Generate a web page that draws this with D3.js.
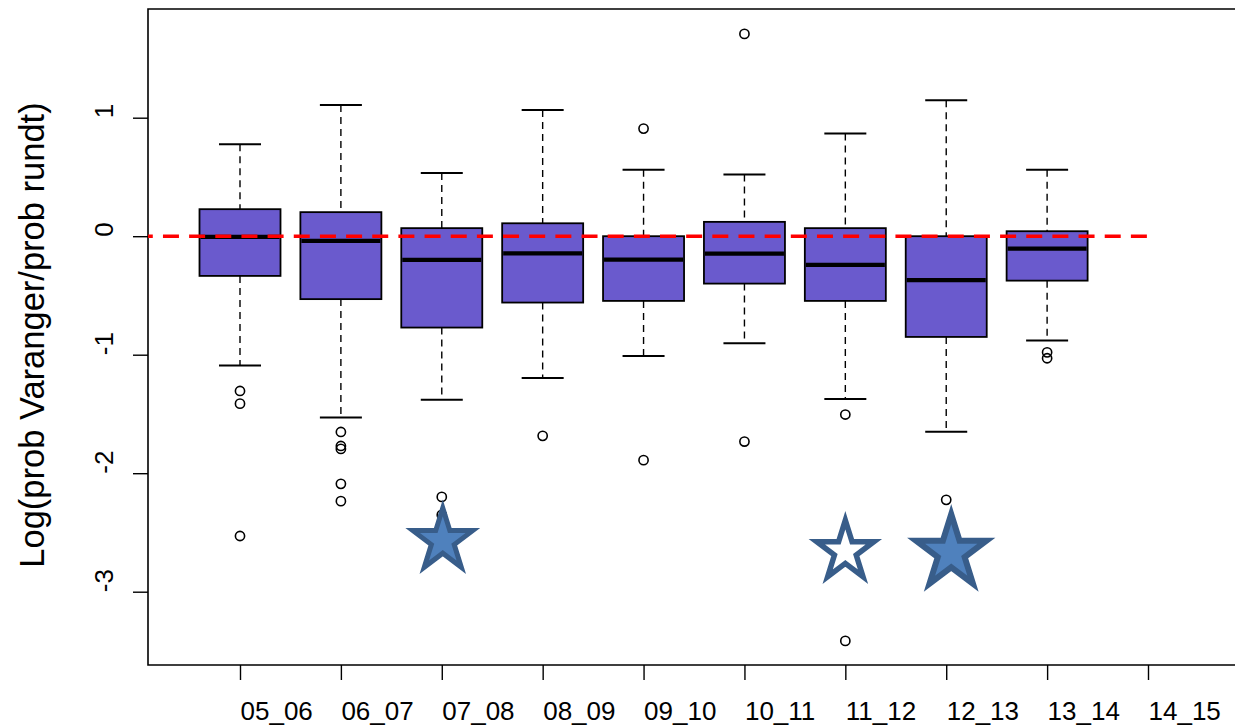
<!DOCTYPE html>
<html>
<head>
<meta charset="utf-8">
<script src="https://cdn.jsdelivr.net/npm/d3@7/dist/d3.min.js"></script>
<style>
  html, body { margin: 0; padding: 0; background: #fff; }
  svg { display: block; font-family: "Liberation Sans", Arial, sans-serif; }
</style>
</head>
<body>
<svg id="chart" width="1235" height="726"></svg>
<script>
// Season categories along the x axis (the last one has no data)
const categories = ["05_06","06_07","07_08","08_09","09_10","10_11","11_12","12_13","13_14","14_15"];
const boxCategories = ["05_06","06_07","07_08","08_09","09_10","10_11","11_12","12_13","13_14"];

// Box statistics per season
const whiskerLow  = [-1.092, -1.53, -1.38, -1.196, -1.01, -0.903, -1.373, -1.651, -0.88];
const quartile1   = [-0.335, -0.531, -0.771, -0.56, -0.546, -0.40, -0.546, -0.85, -0.375];
const medians     = [-0.005, -0.04, -0.20, -0.145, -0.197, -0.147, -0.242, -0.371, -0.105];
const quartile3   = [0.228, 0.203, 0.068, 0.109, 0.0, 0.121, 0.068, 0.0, 0.042];
const whiskerHigh = [0.776, 1.108, 0.534, 1.066, 0.56, 0.52, 0.866, 1.148, 0.56];
const outliers = [
  [-1.306, -1.413, -2.53],
  [-1.652, -1.77, -1.795, -2.09, -2.236],
  [-2.2, -2.352],
  [-1.685],
  [0.908, -1.89],
  [1.707, -1.733],
  [-1.505, -3.415],
  [-2.225],
  [-0.98, -1.03]
];

// Y axis ticks
const yTicks = [-3, -2, -1, 0, 1];

// Star markers: season and vertical position
const starCategories = ["07_08", "11_12", "12_13"];
const starValues = [-2.57, -2.66, -2.67];
const starFilled = [true, false, true];

// Star sizes, outline widths and small horizontal nudges (drawing style)
const starRadius = [31.5, 30, 37];
const starStroke = [5, 5.5, 6];
const starNudge = [1, 0, 5];

const svg = d3.select("#chart");

const frame = { left: 148, top: 9, bottom: 665, right: 1240 };

const x = d3.scalePoint().domain(categories).range([240, 1148]);
const y = d3.scaleLinear().domain([-3, 1]).range([591.7, 117.7]);

const boxWidth = 81;
const capWidth = 42;

// Plot frame (right side lies outside the canvas)
svg.append("path")
  .attr("d", `M${frame.right},${frame.top}H${frame.left}V${frame.bottom}H${frame.right}`)
  .attr("fill", "none").attr("stroke", "#000").attr("stroke-width", 1.6);

// Y axis
const yAxis = svg.append("g")
  .attr("transform", `translate(${frame.left},0)`)
  .call(d3.axisLeft(y).tickValues(yTicks).tickSize(15).tickFormat(d3.format("d")));
yAxis.select(".domain").remove();
yAxis.selectAll(".tick line").attr("stroke", "#000").attr("stroke-width", 1.4);
yAxis.selectAll(".tick text")
  .attr("transform", "rotate(-90)")
  .attr("x", 0).attr("y", -35).attr("dy", 0)
  .attr("text-anchor", "start")
  .attr("font-size", 26)
  .attr("font-family", "\"Liberation Sans\", Arial, sans-serif")
  .attr("fill", "#000")
  .text(d => d < 0 ? "-" + Math.abs(d) : String(d));

// X axis
const xAxis = svg.append("g")
  .attr("transform", `translate(0,${frame.bottom})`)
  .call(d3.axisBottom(x).tickSize(15));
xAxis.select(".domain").remove();
xAxis.selectAll(".tick line").attr("stroke", "#000").attr("stroke-width", 1.4);
xAxis.selectAll(".tick text")
  .attr("y", 55).attr("dy", 0)
  .attr("text-anchor", "start")
  .attr("font-size", 26)
  .attr("font-family", "\"Liberation Sans\", Arial, sans-serif")
  .attr("fill", "#000");

// Y axis title
svg.append("text")
  .attr("transform", `translate(44,335) rotate(-90)`)
  .attr("text-anchor", "middle")
  .attr("font-size", 34.5)
  .attr("fill", "#000")
  .text("Log(prob Varanger/prob rundt)");

// Boxes
const boxes = boxCategories.map((c, i) => ({
  c, lo: whiskerLow[i], q1: quartile1[i], med: medians[i], q3: quartile3[i], hi: whiskerHigh[i], out: outliers[i]
}));

const g = svg.append("g");
const bg = g.selectAll("g.box").data(boxes).join("g").attr("class", "box");

// whiskers (dashed)
bg.append("line")
  .attr("x1", d => x(d.c)).attr("x2", d => x(d.c))
  .attr("y1", d => y(d.hi)).attr("y2", d => y(d.q3))
  .attr("stroke", "#000").attr("stroke-width", 1.4).attr("stroke-dasharray", "7,5");
bg.append("line")
  .attr("x1", d => x(d.c)).attr("x2", d => x(d.c))
  .attr("y1", d => y(d.q1)).attr("y2", d => y(d.lo))
  .attr("stroke", "#000").attr("stroke-width", 1.4).attr("stroke-dasharray", "7,5");
// whisker caps
bg.append("line")
  .attr("x1", d => x(d.c) - capWidth / 2).attr("x2", d => x(d.c) + capWidth / 2)
  .attr("y1", d => y(d.hi)).attr("y2", d => y(d.hi))
  .attr("stroke", "#000").attr("stroke-width", 2);
bg.append("line")
  .attr("x1", d => x(d.c) - capWidth / 2).attr("x2", d => x(d.c) + capWidth / 2)
  .attr("y1", d => y(d.lo)).attr("y2", d => y(d.lo))
  .attr("stroke", "#000").attr("stroke-width", 2);
// box body
bg.append("rect")
  .attr("x", d => x(d.c) - boxWidth / 2).attr("width", boxWidth)
  .attr("y", d => y(d.q3)).attr("height", d => y(d.q1) - y(d.q3))
  .attr("fill", "#6A5ACD").attr("stroke", "#000").attr("stroke-width", 1.8);
// median
bg.append("line")
  .attr("x1", d => x(d.c) - boxWidth / 2 + 1).attr("x2", d => x(d.c) + boxWidth / 2 - 1)
  .attr("y1", d => y(d.med)).attr("y2", d => y(d.med))
  .attr("stroke", "#000").attr("stroke-width", 4.2);
// outliers
bg.selectAll("circle").data(d => d.out.map(v => ({ c: d.c, v }))).join("circle")
  .attr("cx", d => x(d.c)).attr("cy", d => y(d.v)).attr("r", 4.6)
  .attr("fill", "none").attr("stroke", "#000").attr("stroke-width", 1.6);

// Reference line at zero
svg.append("line")
  .attr("x1", frame.left).attr("x2", x("14_15"))
  .attr("y1", y(0)).attr("y2", y(0))
  .attr("stroke", "#FF0000").attr("stroke-width", 3.4)
  .attr("stroke-dasharray", "16,10.16").attr("stroke-dashoffset", 11.2);

// Five-point star path centred on (0,0)
function starPath(r, ky) {
  const inner = r * 0.382;
  const pts = [];
  for (let k = 0; k < 10; k++) {
    const a = -Math.PI / 2 + k * Math.PI / 5;
    const rr = k % 2 === 0 ? r : inner;
    pts.push([rr * Math.cos(a), rr * Math.sin(a) * ky]);
  }
  return "M" + pts.map(p => p[0].toFixed(2) + "," + p[1].toFixed(2)).join("L") + "Z";
}

const stars = starCategories.map((c, i) => ({
  c, v: starValues[i], filled: starFilled[i], r: starRadius[i], sw: starStroke[i], dx: starNudge[i]
}));
svg.append("g").selectAll("path").data(stars).join("path")
  .attr("transform", d => `translate(${x(d.c) + d.dx},${y(d.v)})`)
  .attr("d", d => starPath(d.r, 1.04))
  .attr("fill", d => d.filled ? "#4F81BD" : "#FFFFFF")
  .attr("stroke", "#385D8A")
  .attr("stroke-width", d => d.sw)
  .attr("stroke-linejoin", "miter");
</script>
</body>
</html>
